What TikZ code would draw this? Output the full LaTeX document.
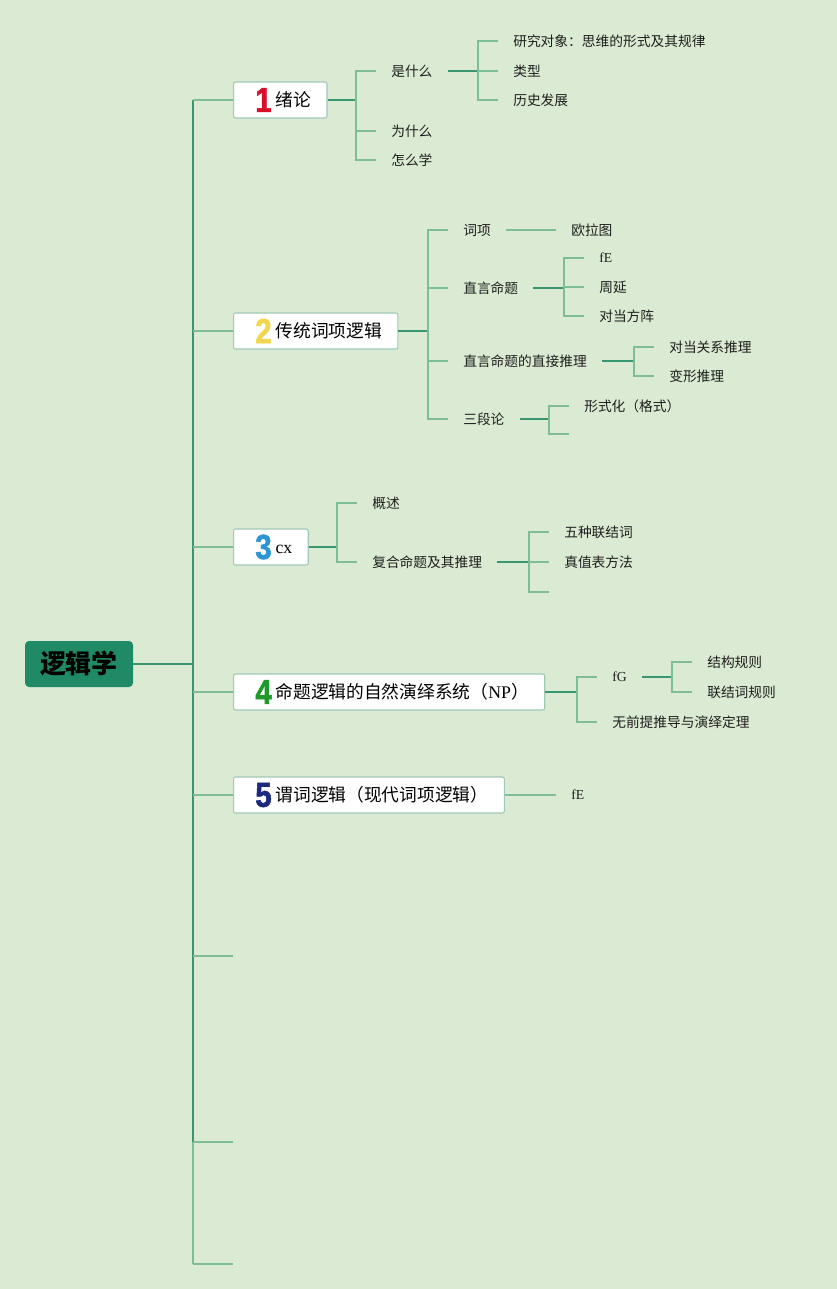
\documentclass[tikz,border=0pt]{standalone}
\usepackage{fontspec}
\setmainfont{Noto Sans CJK SC}
\newfontfamily\latinserif{Liberation Serif}
\newfontfamily\numfont{Liberation Sans}[BoldFeatures={FakeBold=1.8}]
\usepackage{xcolor}
\usetikzlibrary{positioning}

\definecolor{mapbg}{RGB}{219,235,211}
\definecolor{rootgreen}{RGB}{31,138,101}
\definecolor{darklink}{RGB}{58,150,112}
\definecolor{lightlink}{RGB}{125,190,150}
\definecolor{boxline}{RGB}{160,200,180}
\definecolor{numred}{RGB}{215,16,42}
\definecolor{numyellow}{RGB}{242,214,75}
\definecolor{numblue}{RGB}{43,149,214}
\definecolor{numgreen}{RGB}{30,154,44}
\definecolor{numnavy}{RGB}{27,42,122}
\definecolor{leaftext}{RGB}{30,30,30}

\newcommand{\topicnum}[2]{\hspace*{3pt}\makebox[15pt][c]{\raisebox{-4pt}{\numfont\bfseries\fontsize{26}{26}\selectfont\color{#1}\scalebox{0.85}[1]{#2}}}\hspace*{1.5pt}}

\begin{document}
\begin{tikzpicture}[
  x=0.75pt, y=-0.75pt,
  root/.style={fill=rootgreen, rounded corners=3pt, minimum width=81pt, minimum height=34.5pt, inner sep=0pt, font=\bfseries\fontsize{19.5}{22}\selectfont},
  topic/.style={draw=boxline, fill=white, rounded corners=1.5pt, line width=0.8pt, anchor=west, minimum height=27pt, inner xsep=12pt, inner ysep=0pt, font=\fontsize{13.3}{16}\selectfont},
  leaf/.style={anchor=west, inner xsep=11.25pt, inner ysep=2pt, text=leaftext, font=\fontsize{10.3}{12}\selectfont},
  link/.style={draw=darklink, line width=1.5pt},
  twig/.style={draw=lightlink, line width=1.1pt}
]
\fill[mapbg] (0,0) rectangle (837,1289);
\useasboundingbox (0,0) rectangle (837,1289);

\node[root] (root) at (79,664) {逻辑学};
\node[topic] (t1) at (233,100) {\topicnum{numred}{1}绪论};
\node[topic] (t2) at (233,331) {\topicnum{numyellow}{2}传统词项逻辑};
\node[topic] (t3) at (233,547) {\topicnum{numblue}{3}{\latinserif cx}};
\node[topic] (t4) at (233,692) {\topicnum{numgreen}{4}命题逻辑的自然演绎系统（{\latinserif NP}）};
\node[topic] (t5) at (233,795) {\topicnum{numnavy}{5}谓词逻辑（现代词项逻辑）};
\coordinate (e6) at (233,956);
\coordinate (e7) at (233,1142);
\coordinate (e8) at (233,1264);
\coordinate (j0) at (193,664);

\coordinate (j1) at (356,100);
\node[leaf] (c11) at (376,71) {是什么};
\node[leaf] (c12) at (376,131) {为什么};
\node[leaf] (c13) at (376,160) {怎么学};
\coordinate (j11) at (478,71);
\node[leaf] (c111) at (498,41) {研究对象：思维的形式及其规律};
\node[leaf] (c112) at (498,71) {类型};
\node[leaf] (c113) at (498,100) {历史发展};

\coordinate (j2) at (428,331);
\node[leaf] (c21) at (448,230) {词项};
\node[leaf] (c22) at (448,288) {直言命题};
\node[leaf] (c23) at (448,361) {直言命题的直接推理};
\node[leaf] (c24) at (448,419) {三段论};
\node[leaf] (c211) at (556,230) {欧拉图};
\coordinate (j22) at (564,288);
\node[leaf] (c221) at (584,258) {\latinserif fE};
\node[leaf] (c222) at (584,287) {周延};
\node[leaf] (c223) at (584,316) {对当方阵};
\coordinate (j23) at (634,361);
\node[leaf] (c231) at (654,347) {对当关系推理};
\node[leaf] (c232) at (654,376) {变形推理};
\coordinate (j24) at (549,419);
\node[leaf] (c241) at (569,406) {形式化（格式）};
\coordinate (e242) at (569,434);

\coordinate (j3) at (337,547);
\node[leaf] (c31) at (357,503) {概述};
\node[leaf] (c32) at (357,562) {复合命题及其推理};
\coordinate (j32) at (529,562);
\node[leaf] (c321) at (549,532) {五种联结词};
\node[leaf] (c322) at (549,562) {真值表方法};
\coordinate (e323) at (549,592);

\coordinate (j4) at (577,692);
\node[leaf] (c41) at (597,677) {\latinserif fG};
\node[leaf] (c42) at (597,722) {无前提推导与演绎定理};
\coordinate (j41) at (672,677);
\node[leaf] (c411) at (692,662) {结构规则};
\node[leaf] (c412) at (692,692) {联结词规则};

\node[leaf] (c51) at (556,795) {\latinserif fE};

\draw[link] (root) -- (j0);
\draw[link] (j0|-t1) -- (j0|-e7);
\draw[twig] (j0|-e7) -- (j0|-e8);
\foreach \n in {t1,t2,t3,t4,t5,e6,e7,e8}
  \draw[twig] (j0|-\n) -- (\n);

\draw[link] (t1) -- (j1);
\foreach \n in {c11,c12,c13}
  \draw[twig] (j1) |- (\n);
\draw[link] (c11) -- (j11);
\foreach \n in {c111,c112,c113}
  \draw[twig] (j11) |- (\n);

\draw[link] (t2) -- (j2);
\foreach \n in {c21,c22,c23,c24}
  \draw[twig] (j2) |- (\n);
\draw[twig] (c21) -- (c211);
\draw[link] (c22) -- (j22);
\foreach \n in {c221,c222,c223}
  \draw[twig] (j22) |- (\n);
\draw[link] (c23) -- (j23);
\foreach \n in {c231,c232}
  \draw[twig] (j23) |- (\n);
\draw[link] (c24) -- (j24);
\foreach \n in {c241,e242}
  \draw[twig] (j24) |- (\n);

\draw[link] (t3) -- (j3);
\foreach \n in {c31,c32}
  \draw[twig] (j3) |- (\n);
\draw[link] (c32) -- (j32);
\foreach \n in {c321,c322,e323}
  \draw[twig] (j32) |- (\n);

\draw[link] (t4) -- (j4);
\foreach \n in {c41,c42}
  \draw[twig] (j4) |- (\n);
\draw[link] (c41) -- (j41);
\foreach \n in {c411,c412}
  \draw[twig] (j41) |- (\n);

\draw[twig] (t5) -- (c51);
\end{tikzpicture}
\end{document}
